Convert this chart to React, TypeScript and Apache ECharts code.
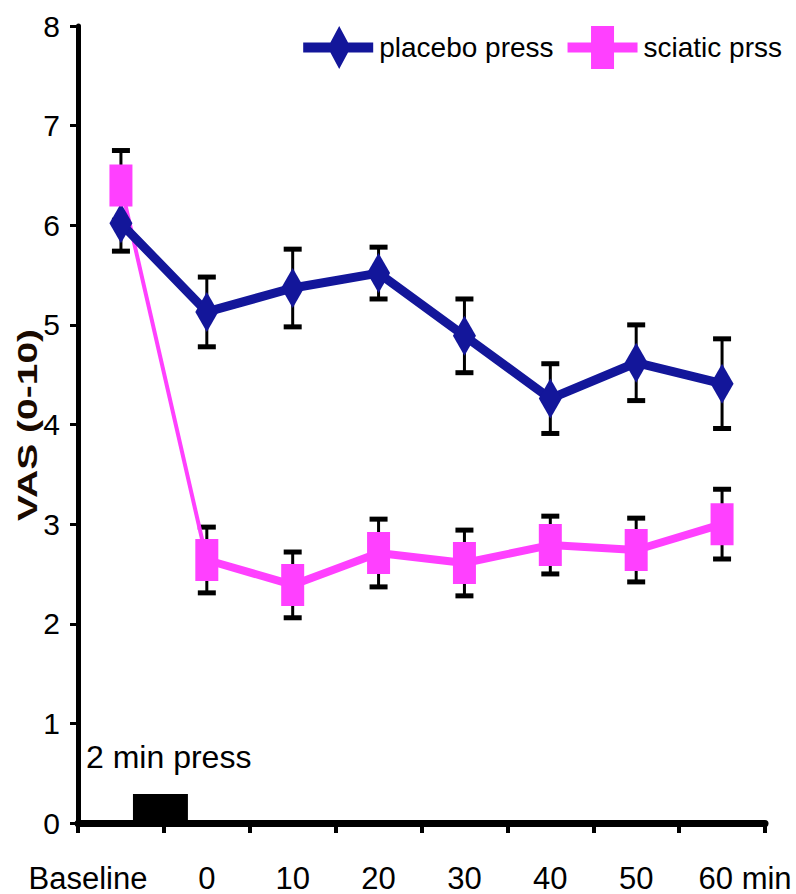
import React, { useEffect, useRef } from 'react';
import * as echarts from 'echarts';

// ---------- data ----------
const categories = ['Baseline', '0', '10', '20', '30', '40', '50', '60 min'];
const placeboMean = [6.02, 5.13, 5.37, 5.52, 4.89, 4.26, 4.62, 4.41];
const placeboErr = [0.28, 0.35, 0.39, 0.26, 0.37, 0.35, 0.38, 0.45];
const sciaticMean = [6.40, 2.64, 2.39, 2.71, 2.61, 2.79, 2.74, 3.0];
const sciaticErr = [0.35, 0.33, 0.33, 0.34, 0.33, 0.29, 0.32, 0.35];
const yMin = 0;
const yMax = 8;
const yInterval = 1;
// press period marker: category-index span and height (VAS units)
const pressFrom = 0.14;
const pressTo = 0.78;
const pressHeight = 0.29;

const NAVY = '#13169a';
const MAGENTA = '#ff40ff';
const SANS = "'Liberation Sans', Arial, sans-serif";

const placeboIcon =
  'path://M0 16.5H70V26.5H0Z M24.5 21.5L36 0L47.5 21.5L36 43Z';
const sciaticIcon =
  'path://M0 16.5H70V26.5H0Z M23.5 0H46.5V43H23.5Z';

function errData(mean: number[], err: number[]) {
  return mean.map((m, i) => [i, m - err[i], m + err[i]]);
}

function errRender(params: any, api: any) {
  const x = api.value(0);
  const lo = api.coord([x, api.value(1)]);
  const hi = api.coord([x, api.value(2)]);
  const half = 9;
  return {
    type: 'group',
    children: [
      { type: 'line', shape: { x1: lo[0], y1: lo[1], x2: hi[0], y2: hi[1] }, style: { stroke: '#000', lineWidth: 3 } },
      { type: 'line', shape: { x1: lo[0] - half, y1: lo[1], x2: lo[0] + half, y2: lo[1] }, style: { stroke: '#000', lineWidth: 5 } },
      { type: 'line', shape: { x1: hi[0] - half, y1: hi[1], x2: hi[0] + half, y2: hi[1] }, style: { stroke: '#000', lineWidth: 5 } },
    ],
  };
}

export default function App() {
  const ref = useRef<HTMLDivElement>(null);
  useEffect(() => {
    if (!ref.current) return;
    const chart = echarts.init(ref.current, undefined, { renderer: 'svg' });
    const last = categories.length - 1;
    const option: any = {
      animation: false,
      backgroundColor: '#fff',
      grid: { left: 78, right: 31, top: 26, bottom: 71, containLabel: false },
      legend: {
        right: 9,
        top: 21,
        itemWidth: 70,
        itemHeight: 43,
        itemGap: 14,
        textStyle: { fontSize: 28, fontFamily: SANS, color: '#000', padding: [0, 0, 0, 1] },
        data: [
          { name: 'placebo press', icon: placeboIcon },
          { name: 'sciatic prss', icon: sciaticIcon },
        ],
      },
      xAxis: {
        type: 'category',
        data: categories,
        boundaryGap: true,
        axisLine: { show: true, lineStyle: { color: '#000', width: 7 } },
        axisTick: { show: true, length: 10, lineStyle: { color: '#000', width: 4 } },
        axisLabel: {
          interval: 0,
          margin: 42,
          fontSize: 31,
          lineHeight: 26,
          fontFamily: SANS,
          color: '#000',
          formatter: (v: string, i: number) =>
            i === 0 ? `{first|${v}}` : i === last ? `{last|${v}}` : v,
          rich: {
            first: { fontSize: 31, lineHeight: 26, fontFamily: SANS, color: '#000', padding: [0, 66, 0, 0] },
            last: { fontSize: 31, lineHeight: 26, fontFamily: SANS, color: '#000', padding: [0, 0, 0, 46] },
          },
        },
        splitLine: { show: false },
      },
      yAxis: {
        type: 'value',
        min: yMin,
        max: yMax,
        interval: yInterval,
        axisLine: { show: true, lineStyle: { color: '#000', width: 5 } },
        axisTick: { show: true, length: 8, lineStyle: { color: '#000', width: 3 } },
        axisLabel: { margin: 18, fontSize: 30, fontFamily: SANS, color: '#000' },
        splitLine: { show: false },
      },
      graphic: [
        {
          type: 'text',
          x: 27,
          y: 425,
          rotation: Math.PI / 2,
          scaleY: 0.72,
          style: {
            text: 'VAS (0-10)',
            font: `bold 39px ${SANS}`,
            fill: '#1a0a00',
            align: 'center',
            verticalAlign: 'middle',
          },
        },
        {
          type: 'text',
          x: 86,
          y: 741,
          style: {
            text: '2 min press',
            font: `32px ${SANS}`,
            fill: '#000',
            align: 'left',
            verticalAlign: 'top',
          },
        },
      ],
      series: [
        {
          name: '_press',
          type: 'custom',
          z: 1,
          data: [[0, 1, pressHeight]],
          renderItem: (params: any, api: any) => {
            const a = api.coord([api.value(0), 0]);
            const b = api.coord([api.value(1), api.value(2)]);
            const w = b[0] - a[0];
            const x1 = a[0] + pressFrom * w;
            const x2 = a[0] + pressTo * w;
            return {
              type: 'rect',
              shape: { x: x1, y: b[1], width: x2 - x1, height: a[1] - b[1] },
              style: { fill: '#000' },
            };
          },
        },
        { name: '_errPlacebo', type: 'custom', z: 2, data: errData(placeboMean, placeboErr), renderItem: errRender },
        { name: '_errSciatic', type: 'custom', z: 2, data: errData(sciaticMean, sciaticErr), renderItem: errRender },
        {
          name: '_sciaticConnector',
          type: 'line',
          z: 3,
          data: sciaticMean.map((v, i) => (i <= 1 ? v : '-')),
          symbol: 'none',
          lineStyle: { color: MAGENTA, width: 4 },
          itemStyle: { color: MAGENTA },
        },
        {
          name: '_sciaticLine',
          type: 'line',
          z: 3,
          data: sciaticMean.map((v, i) => (i >= 1 ? v : '-')),
          symbol: 'none',
          lineStyle: { color: MAGENTA, width: 8 },
          itemStyle: { color: MAGENTA },
        },
        {
          name: 'placebo press',
          type: 'line',
          z: 4,
          data: placeboMean,
          symbol: 'diamond',
          symbolSize: [23, 40],
          lineStyle: { color: NAVY, width: 9 },
          itemStyle: { color: NAVY },
        },
        {
          name: 'sciatic prss',
          type: 'line',
          z: 5,
          data: sciaticMean,
          symbol: 'rect',
          symbolSize: [23, 42],
          lineStyle: { color: MAGENTA, width: 0, opacity: 0 },
          itemStyle: { color: MAGENTA },
        },
      ],
    };
    chart.setOption(option);
    return () => chart.dispose();
  }, []);
  return (
    <div
      ref={ref}
      style={{ position: 'fixed', left: 0, top: 0, width: 796, height: 894, background: '#fff' }}
    />
  );
}
